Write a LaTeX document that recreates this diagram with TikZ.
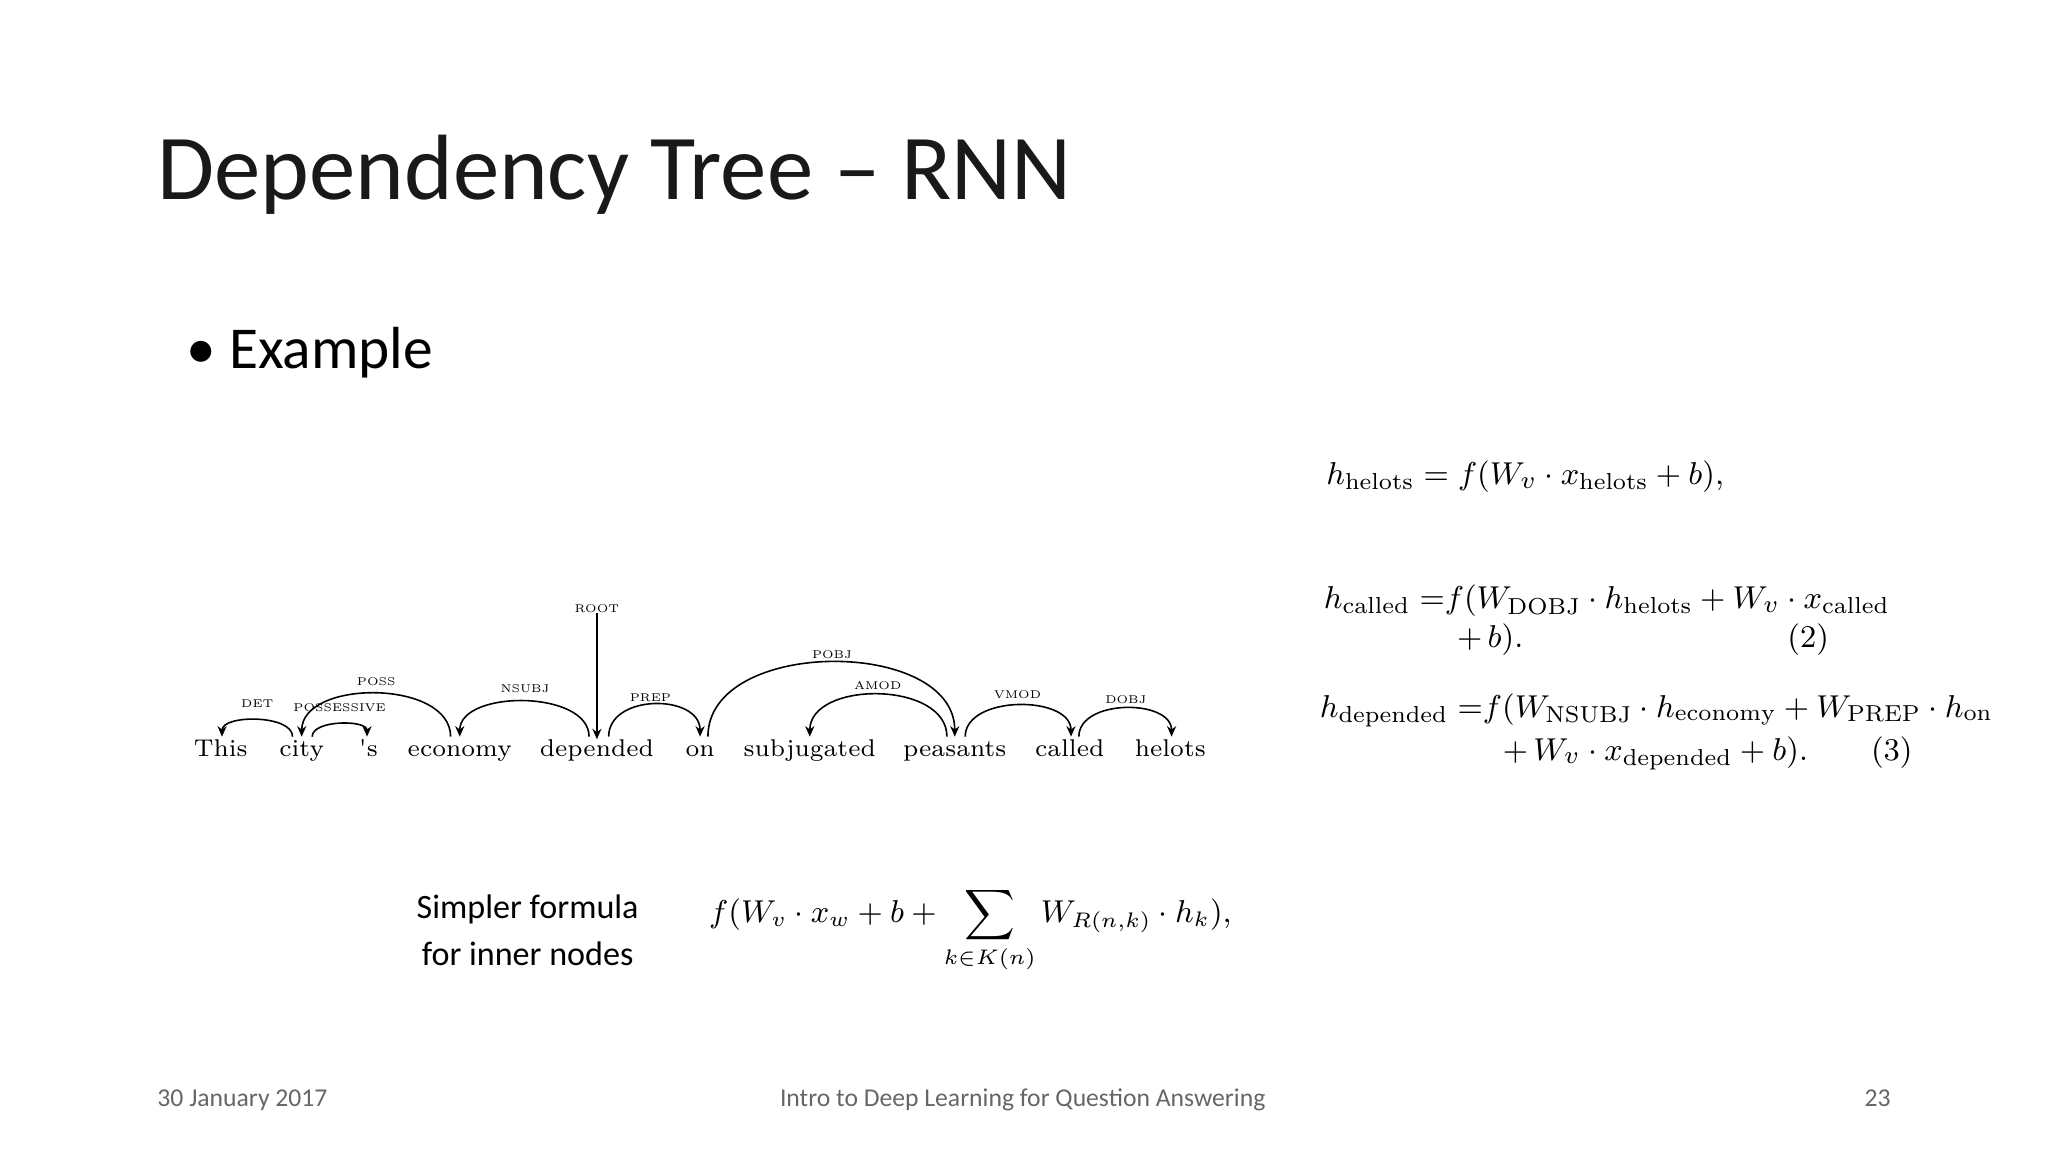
\documentclass[tikz,border=0pt]{standalone}
\usepackage{fontspec}
\setmainfont{Carlito}
\setmathrm{Latin Modern Roman}
\newfontfamily\lmr{Latin Modern Roman}
\usetikzlibrary{arrows.meta}
\tikzset{
  word/.style={font=\lmr\fontsize{6.9}{8}\selectfont, anchor=base, inner sep=0pt},
  dlab/.style={font=\lmr\fontsize{3.2}{4}\selectfont, inner sep=0pt},
  arc/.style={-{Stealth[length=3pt,width=2.6pt]}, line width=0.45pt},
  eq/.style={anchor=base west, inner sep=0pt, font=\fontsize{9.4}{12}\selectfont},
  foot/.style={font=\fontsize{7.3}{9}\selectfont, text=black!60, anchor=base, inner sep=0pt}
}
\begin{document}
\begin{tikzpicture}[x=0.0130612cm,y=-0.0130612cm]
\useasboundingbox (0,0) rectangle (1568,882);
\node[anchor=base west, inner sep=0pt, font=\fontsize{26.4}{30}\selectfont, text=black!90] (title) at (120,153) {Dependency Tree -- RNN};
\node[anchor=base west, inner sep=0pt, font=\fontsize{16.9}{20}\selectfont] (ex) at (142,282) {\textbullet\ Example};
% words
\foreach \n/\x/\w in {w1/169/This, w2/231/city, w3/282/'s, w4/352/economy, w5/457/depended, w6/536/on, w7/620/subjugated, w8/731/peasants, w9/819/called, w10/896/helots}
  \node[word] (\n) at (\x,579) {\w};
\node[dlab] (root) at (457,466) {ROOT};
\draw[arc] (root.south) -- (457,566);
\draw[arc] (224,564) .. controls (224,547) and (170,547) .. (170,564);
\node[dlab] at (197,539) {DET};
\draw[arc] (239,564) .. controls (239,551) and (281,551) .. (281,564);
\node[dlab] at (260,542) {POSSESSIVE};
\draw[arc] (345,564) .. controls (345,520) and (231,520) .. (231,564);
\node[dlab] at (288,522) {POSS};
\draw[arc] (451,564) .. controls (451,528) and (352,528) .. (352,564);
\node[dlab] at (402,527) {NSUBJ};
\draw[arc] (466,564) .. controls (466,531) and (536,531) .. (536,564);
\node[dlab] at (498,534) {PREP};
\draw[arc] (542,564) .. controls (542,488) and (731,488) .. (731,564);
\node[dlab] at (637,501) {POBJ};
\draw[arc] (725,564) .. controls (725,521) and (620,521) .. (620,564);
\node[dlab] at (672,525) {AMOD};
\draw[arc] (739,564) .. controls (739,532) and (820,532) .. (820,564);
\node[dlab] at (779,532) {VMOD};
\draw[arc] (826,564) .. controls (826,535) and (897,535) .. (897,564);
\node[dlab] at (862,536) {DOBJ};
% equations
\node[eq] (e1) at (1015,371) {$h_{\mathrm{helots}} = f(W_v\cdot x_{\mathrm{helots}} + b),$};
\node[eq] (e2) at (1013,466) {$h_{\mathrm{called}}\;{=}f(W_{\mathrm{DOBJ}}\cdot h_{\mathrm{helots}} + W_v\cdot x_{\mathrm{called}}$};
\node[eq] (e2b) at (1115,496) {$+\,b).$};
\node[eq] (n2) at (1368,496) {$(2)$};
\node[eq] (e3) at (1010,549) {$h_{\mathrm{depended}}\;{=}f(W_{\mathrm{NSUBJ}}\cdot h_{\mathrm{economy}} + W_{\mathrm{PREP}}\cdot h_{\mathrm{on}}$};
\node[eq] (e3b) at (1150,582) {$+\,W_v\cdot x_{\mathrm{depended}} + b).$};
\node[eq] (n3) at (1432,582) {$(3)$};
\node[inner sep=0pt, font=\fontsize{9}{11}\selectfont] (ef) at (743,712) {$\displaystyle f(W_v\cdot x_w + b + \sum_{k\in K(n)} W_{R(n,k)}\cdot h_k),$};
\node[align=center, inner sep=0pt, font=\fontsize{9.7}{13.3}\selectfont] (simp) at (404,712) {Simpler formula\\for inner nodes};
% footer
\node[foot, anchor=base west] (d) at (120,847) {30 January 2017};
\node[foot] (c) at (783,847) {Intro to Deep Learning for Question Answering};
\node[foot, anchor=base east] (p) at (1448,847) {23};
\end{tikzpicture}
\end{document}
